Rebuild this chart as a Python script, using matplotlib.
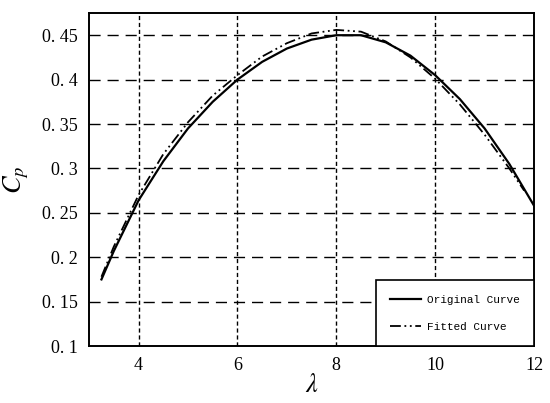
import matplotlib
matplotlib.use('Agg')
import matplotlib.pyplot as plt

# values
lam = [3.25, 3.5, 4, 4.5, 5, 5.5, 6, 6.5, 7, 7.5, 8, 8.5, 9, 9.5, 10, 10.5, 11, 11.5, 12]
cp_orig = [0.175, 0.207, 0.264, 0.308, 0.345, 0.375, 0.400, 0.420, 0.435, 0.445,
           0.450, 0.450, 0.442, 0.427, 0.405, 0.378, 0.345, 0.305, 0.258]
lam_fit = [3.25, 3.5, 4, 4.5, 5, 5.5, 6, 6.5, 7, 7.5, 8, 8.5, 9, 9.5, 10, 10.5, 11, 11.5, 11.8]
cp_fit = [0.178, 0.212, 0.270, 0.316, 0.352, 0.382, 0.405, 0.426, 0.441, 0.452,
          0.456, 0.454, 0.443, 0.425, 0.401, 0.372, 0.338, 0.300, 0.275]
xticks = [4, 6, 8, 10, 12]
yticks = [0.1, 0.15, 0.2, 0.25, 0.3, 0.35, 0.4, 0.45]
ytick_labels = ['0. 1', '0. 15', '0. 2', '0. 25', '0. 3', '0. 35', '0. 4', '0. 45']

plt.rcParams['font.family'] = ['Liberation Serif', 'DejaVu Serif']
plt.rcParams['mathtext.fontset'] = 'stix'

fig = plt.figure(figsize=(5.5, 4.03), dpi=100)
ax = fig.add_axes([0.162, 0.1414, 0.809, 0.8263])

for y in yticks[1:]:
    ax.axhline(y, color='black', lw=1.0, dashes=(8, 5), zorder=1)
for x in xticks[:-1]:
    ax.axvline(x, color='black', lw=1.0, dashes=(3, 2), zorder=1)

ax.plot(lam, cp_orig, color='black', lw=1.6, label='Original Curve', zorder=3)
ax.plot(lam_fit, cp_fit, color='black', lw=1.3, dashes=(6, 2, 1, 2, 1, 2),
        label='Fitted Curve', zorder=3)

ax.set_xlim(3, 12)
ax.set_ylim(0.1, 0.475)
ax.set_xticks(xticks)
ax.set_yticks(yticks)
ax.set_yticklabels(ytick_labels)
ax.tick_params(length=0, labelsize=13, pad=8)
for s in ax.spines.values():
    s.set_linewidth(1.4)

ax.set_xlabel(r'$\lambda$', fontsize=19, labelpad=0)
ax.set_ylabel(r'$C_p$', fontsize=19, labelpad=8)

leg = ax.legend(loc='lower right', bbox_to_anchor=(1.0, 0.0), fancybox=False,
                edgecolor='black', framealpha=1, borderaxespad=0,
                prop={'family': 'Liberation Mono', 'size': 8},
                handlelength=2.8, handletextpad=0.5, borderpad=1.3, labelspacing=1.5)
leg.get_frame().set_linewidth(1.2)
# shrink horizontal padding a bit to match the narrower box
leg._legend_box.sep = 4

fig.savefig('out.png', dpi=100)
